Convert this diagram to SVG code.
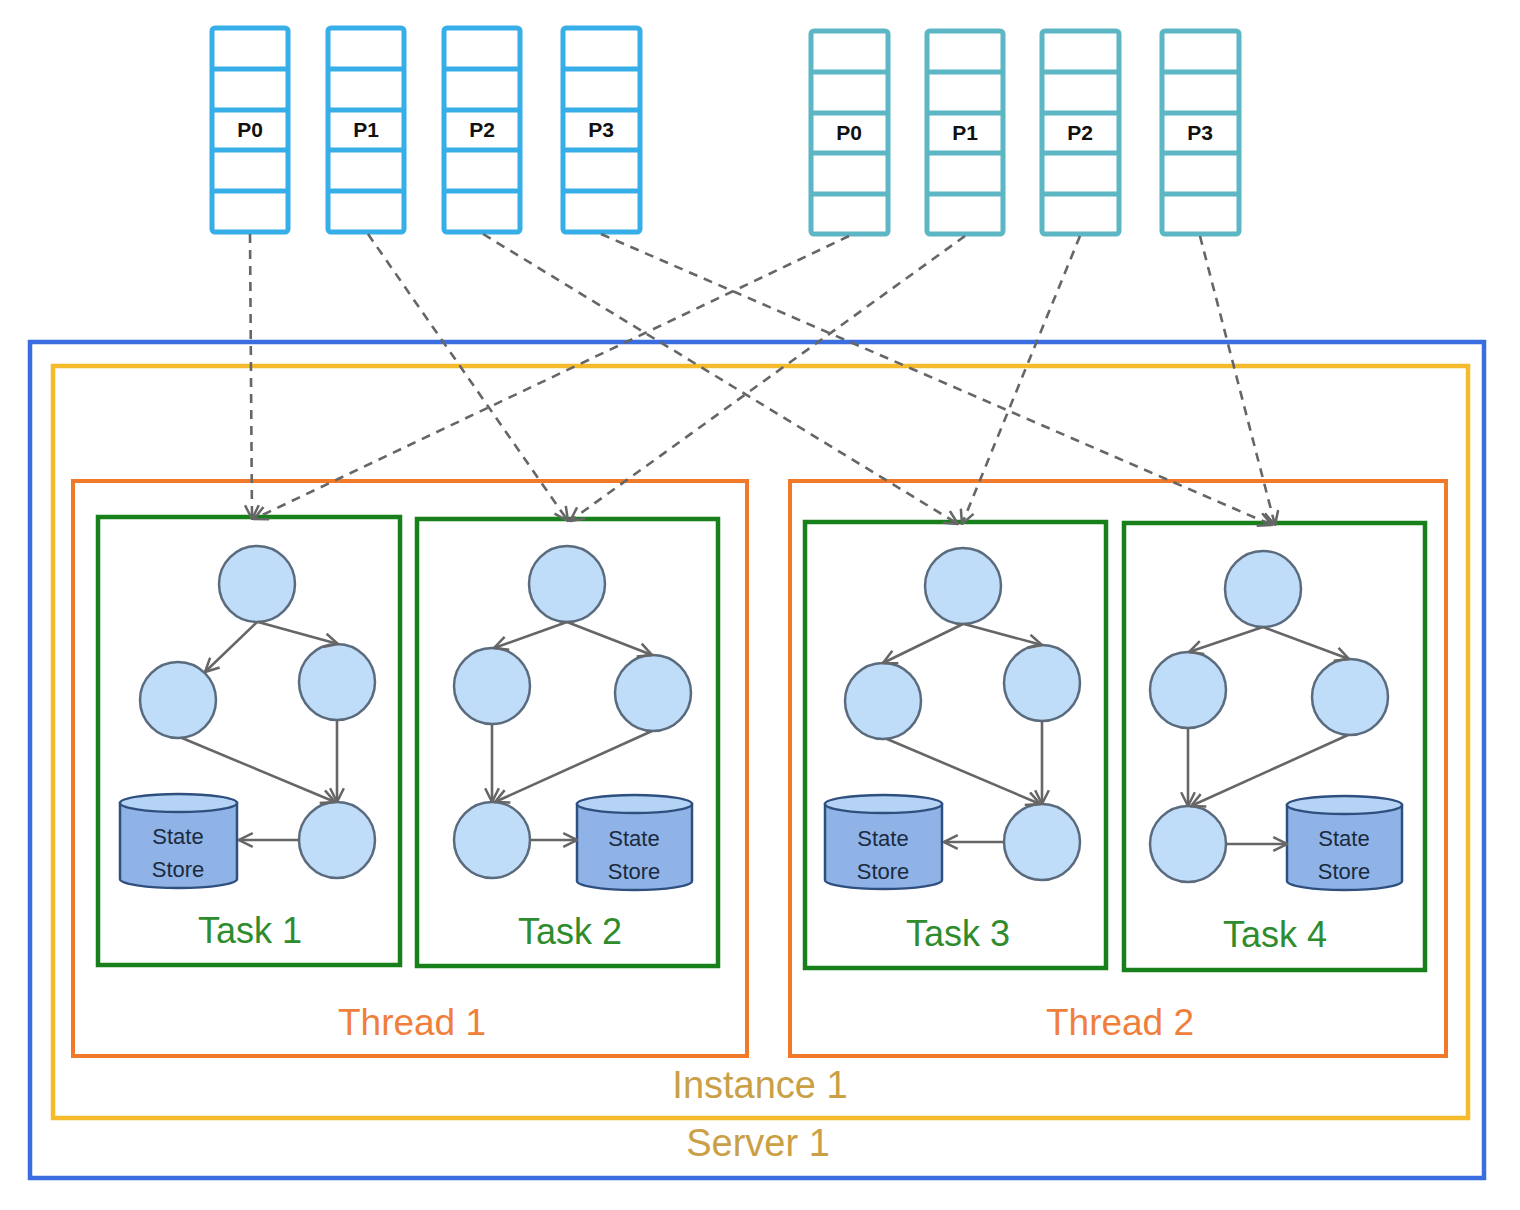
<svg xmlns="http://www.w3.org/2000/svg" width="1520" height="1210" viewBox="0 0 1520 1210">
<style>
.pl{fill:#fff;stroke:#36aee8;stroke-width:5}
.pll{stroke:#36aee8;stroke-width:5}
.pr{fill:#fff;stroke:#5cb6c4;stroke-width:5}
.prl{stroke:#5cb6c4;stroke-width:5}
.plab{font-family:"Liberation Sans",Arial,sans-serif;font-size:21px;font-weight:bold;fill:#111;text-anchor:middle}
.dash{fill:none;stroke:#666;stroke-width:2.6;stroke-dasharray:9 7;marker-end:url(#oa)}
.edge{fill:none;stroke:#666;stroke-width:2.6;marker-end:url(#sa)}
.op{fill:#bfdcf8;stroke:#5b6b7e;stroke-width:2.5}
.cyl{fill:#8fb3e6;stroke:#2f4f7f;stroke-width:2.5}
.cylt{fill:#b5d3f5;stroke:#2f4f7f;stroke-width:2.5}
.ss{font-family:"Liberation Sans",Arial,sans-serif;font-size:22px;fill:#1b2a40;text-anchor:middle}
.task{fill:#fff;stroke:#17801a;stroke-width:4.5}
.tlab{font-family:"Liberation Sans",Arial,sans-serif;font-size:36px;fill:#2e8c2e;text-anchor:middle}
.thr{fill:#fff;stroke:#f07a2a;stroke-width:4}
.thlab{font-family:"Liberation Sans",Arial,sans-serif;font-size:37px;fill:#f07f3c;text-anchor:middle}
.glab{font-family:"Liberation Sans",Arial,sans-serif;font-size:38px;fill:#c9a046;text-anchor:middle}
</style>
<defs>
<marker id="oa" viewBox="0 0 14 14" refX="13" refY="7" markerWidth="16" markerHeight="16" orient="auto" markerUnits="userSpaceOnUse">
<path d="M1,1 L13,7 L1,13" fill="none" stroke="#666" stroke-width="2.2"/>
</marker>
<marker id="sa" viewBox="0 0 14 14" refX="13" refY="7" markerWidth="16" markerHeight="16" orient="auto" markerUnits="userSpaceOnUse">
<path d="M1,1 L13,7 L1,13" fill="none" stroke="#666" stroke-width="2.2"/>
</marker>
</defs>
<rect width="1520" height="1210" fill="#fff"/>

<g id="server1">
<rect x="30" y="342" width="1454" height="836" fill="#fff" stroke="#3a6ee0" stroke-width="4.5"/>
<text class="glab" x="758" y="1156">Server 1</text>
</g>
<g id="instance1">
<rect x="53" y="366" width="1415" height="752" fill="#fff" stroke="#f6bb2c" stroke-width="4.5"/>
<text class="glab" x="760" y="1098">Instance 1</text>
</g>
<g id="thread1">
<rect class="thr" x="73" y="481" width="674" height="575"/>
<text class="thlab" x="412" y="1035">Thread 1</text>
</g>
<g id="thread2">
<rect class="thr" x="790" y="481" width="656" height="575"/>
<text class="thlab" x="1120" y="1035">Thread 2</text>
</g>

<g id="topicA">
<g id="a-p0"><rect class="pl" x="212" y="28" width="76" height="204" rx="3"/><path class="pll" d="M212,69H288M212,110H288M212,150H288M212,191H288"/><text class="plab" x="250" y="137">P0</text></g>
<g id="a-p1"><rect class="pl" x="328" y="28" width="76" height="204" rx="3"/><path class="pll" d="M328,69H404M328,110H404M328,150H404M328,191H404"/><text class="plab" x="366" y="137">P1</text></g>
<g id="a-p2"><rect class="pl" x="444" y="28" width="76" height="204" rx="3"/><path class="pll" d="M444,69H520M444,110H520M444,150H520M444,191H520"/><text class="plab" x="482" y="137">P2</text></g>
<g id="a-p3"><rect class="pl" x="563" y="28" width="77" height="204" rx="3"/><path class="pll" d="M563,69H640M563,110H640M563,150H640M563,191H640"/><text class="plab" x="601" y="137">P3</text></g>
</g>
<g id="topicB">
<g id="b-p0"><rect class="pr" x="811" y="31" width="77" height="203" rx="3"/><path class="prl" d="M811,72H888M811,113H888M811,153H888M811,194H888"/><text class="plab" x="849" y="140">P0</text></g>
<g id="b-p1"><rect class="pr" x="927" y="31" width="76" height="203" rx="3"/><path class="prl" d="M927,72H1003M927,113H1003M927,153H1003M927,194H1003"/><text class="plab" x="965" y="140">P1</text></g>
<g id="b-p2"><rect class="pr" x="1042" y="31" width="77" height="203" rx="3"/><path class="prl" d="M1042,72H1119M1042,113H1119M1042,153H1119M1042,194H1119"/><text class="plab" x="1080" y="140">P2</text></g>
<g id="b-p3"><rect class="pr" x="1162" y="31" width="77" height="203" rx="3"/><path class="prl" d="M1162,72H1239M1162,113H1239M1162,153H1239M1162,194H1239"/><text class="plab" x="1200" y="140">P3</text></g>
</g>

<g id="task1">
<rect class="task" x="98" y="517" width="302" height="448"/>
<circle class="op" cx="257" cy="584" r="38"/>
<circle class="op" cx="178" cy="700" r="38"/>
<circle class="op" cx="337" cy="682" r="38"/>
<circle class="op" cx="337" cy="840" r="38"/>
<path class="cyl" d="M120,803 V879 A58.5,9 0 0 0 237,879 V803 Z"/>
<ellipse class="cylt" cx="178.5" cy="803" rx="58.5" ry="9"/>
<text class="ss" x="178" y="844">State</text>
<text class="ss" x="178" y="877">Store</text>
<text class="tlab" x="250" y="943">Task 1</text>
</g>
<g id="task2">
<rect class="task" x="417" y="519" width="301" height="447"/>
<circle class="op" cx="567" cy="584" r="38"/>
<circle class="op" cx="492" cy="686" r="38"/>
<circle class="op" cx="653" cy="693" r="38"/>
<circle class="op" cx="492" cy="840" r="38"/>
<path class="cyl" d="M577,804 V881 A57.5,9 0 0 0 692,881 V804 Z"/>
<ellipse class="cylt" cx="634.5" cy="804" rx="57.5" ry="9"/>
<text class="ss" x="634" y="846">State</text>
<text class="ss" x="634" y="879">Store</text>
<text class="tlab" x="570" y="944">Task 2</text>
</g>
<g id="task3">
<rect class="task" x="805" y="522" width="301" height="446"/>
<circle class="op" cx="963" cy="586" r="38"/>
<circle class="op" cx="883" cy="701" r="38"/>
<circle class="op" cx="1042" cy="683" r="38"/>
<circle class="op" cx="1042" cy="842" r="38"/>
<path class="cyl" d="M825,804 V880 A58.5,9 0 0 0 942,880 V804 Z"/>
<ellipse class="cylt" cx="883.5" cy="804" rx="58.5" ry="9"/>
<text class="ss" x="883" y="846">State</text>
<text class="ss" x="883" y="879">Store</text>
<text class="tlab" x="958" y="946">Task 3</text>
</g>
<g id="task4">
<rect class="task" x="1124" y="523" width="301" height="447"/>
<circle class="op" cx="1263" cy="589" r="38"/>
<circle class="op" cx="1188" cy="690" r="38"/>
<circle class="op" cx="1350" cy="697" r="38"/>
<circle class="op" cx="1188" cy="844" r="38"/>
<path class="cyl" d="M1287,805 V881 A57.5,9 0 0 0 1402,881 V805 Z"/>
<ellipse class="cylt" cx="1344.5" cy="805" rx="57.5" ry="9"/>
<text class="ss" x="1344" y="846">State</text>
<text class="ss" x="1344" y="879">Store</text>
<text class="tlab" x="1275" y="947">Task 4</text>
</g>

<g id="connectors">
<path class="dash" d="M250,234 L252,519"/>
<path class="dash" d="M368,234 L568,521"/>
<path class="dash" d="M483,234 L958,524"/>
<path class="dash" d="M601,234 L1272,525"/>
<path class="dash" d="M849,236 L254,519"/>
<path class="dash" d="M965,236 L570,521"/>
<path class="dash" d="M1080,236 L962,524"/>
<path class="dash" d="M1200,236 L1275,525"/>

<path class="edge" d="M257,622 L205,672"/>
<path class="edge" d="M258,622 L338,644"/>
<path class="edge" d="M182,738 L335,802"/>
<path class="edge" d="M337,720 L337,802"/>
<path class="edge" d="M299,840 L239,840"/>

<path class="edge" d="M567,622 L494,648"/>
<path class="edge" d="M567,622 L652,655"/>
<path class="edge" d="M492,724 L492,802"/>
<path class="edge" d="M652,731 L495,802"/>
<path class="edge" d="M530,840 L577,840"/>

<path class="edge" d="M963,624 L883,663"/>
<path class="edge" d="M964,624 L1042,645"/>
<path class="edge" d="M887,739 L1040,804"/>
<path class="edge" d="M1042,721 L1042,804"/>
<path class="edge" d="M1004,842 L944,842"/>

<path class="edge" d="M1263,627 L1189,652"/>
<path class="edge" d="M1263,627 L1349,659"/>
<path class="edge" d="M1188,728 L1188,806"/>
<path class="edge" d="M1348,735 L1191,806"/>
<path class="edge" d="M1226,844 L1287,844"/>
</g>
</svg>
